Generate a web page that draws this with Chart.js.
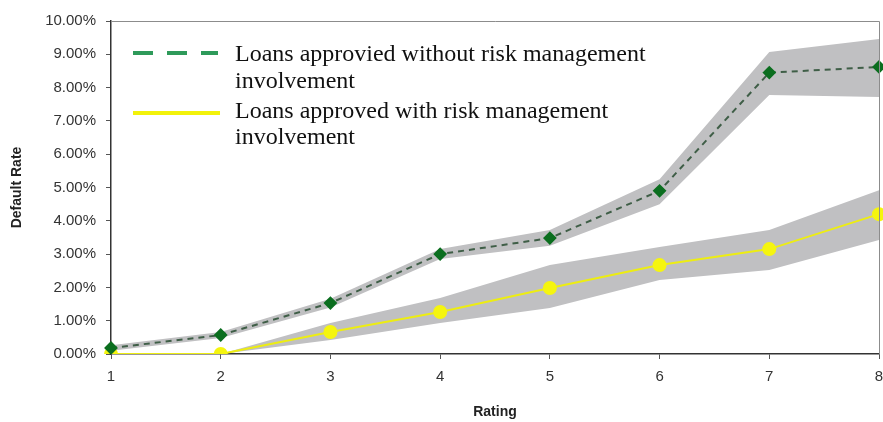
<!DOCTYPE html>
<html>
<head>
<meta charset="utf-8">
<script src="https://cdn.jsdelivr.net/npm/chart.js@4"></script>
<style>
  html, body { margin: 0; padding: 0; background: #fff; }
  #wrap { width: 883px; height: 422px; position: relative; }
</style>
</head>
<body>
<div id="wrap"><canvas id="myChart" width="883" height="422"></canvas></div>
<script>
// ratings on the x axis
const ratings = ['1', '2', '3', '4', '5', '6', '7', '8'];

// default rate in percent
const withoutRisk = [0.18, 0.57, 1.53, 3.0, 3.48, 4.9, 8.45, 8.62];
const withoutRiskHigh = [0.26, 0.66, 1.66, 3.15, 3.72, 5.25, 9.07, 9.46];
const withoutRiskLow = [0.1, 0.48, 1.4, 2.85, 3.25, 4.5, 7.78, 7.72];

const withRisk = [0.0, 0.0, 0.66, 1.26, 1.98, 2.67, 3.15, 4.2];
const withRiskHigh = [0.0, 0.0, 0.93, 1.68, 2.67, 3.21, 3.72, 4.92];
const withRiskLow = [0.0, 0.0, 0.42, 0.93, 1.38, 2.22, 2.52, 3.42];

const legendLabels = [
    ['Loans approvied without risk management', 'involvement'],
    ['Loans approved with risk management', 'involvement']
];

const bandColor = 'rgb(192, 192, 194)';
const tickFont = { family: 'Liberation Sans, Arial, sans-serif', size: 15 };
const titleFont = { family: 'Liberation Sans, Arial, sans-serif', size: 14, weight: 'bold' };

// legend drawn on the canvas, with the wrapped labels of the original
const legendBox = {
    id: 'legendBox',
    afterDraw(chart) {
        const c = chart.ctx;
        const area = chart.chartArea;
        c.save();
        // top and right frame lines
        c.strokeStyle = '#8c8c8c';
        c.lineWidth = 1;
        c.beginPath();
        c.moveTo(area.left, area.top + 0.5);
        c.lineTo(area.right + 0.5, area.top + 0.5);
        c.lineTo(area.right + 0.5, area.bottom);
        c.stroke();

        // legend keys
        c.lineWidth = 4;
        c.strokeStyle = '#2e9a5a';
        c.setLineDash([20, 14]);
        c.beginPath();
        c.moveTo(133, 53);
        c.lineTo(218, 53);
        c.stroke();
        c.setLineDash([]);
        c.strokeStyle = '#f2f20a';
        c.beginPath();
        c.moveTo(133, 113);
        c.lineTo(220, 113);
        c.stroke();

        c.fillStyle = '#111';
        c.font = '24px "Liberation Serif", "DejaVu Serif", serif';
        c.textBaseline = 'alphabetic';
        c.fillText(legendLabels[0][0], 235, 61);
        c.fillText(legendLabels[0][1], 235, 88);
        c.fillText(legendLabels[1][0], 235, 118);
        c.fillText(legendLabels[1][1], 235, 144);
        c.restore();
    }
};

const ctx = document.getElementById('myChart');

new Chart(ctx, {
    type: 'line',
    data: {
        labels: ratings,
        datasets: [
            {
                data: withoutRisk,
                order: 0,
                borderColor: '#3f5e47',
                borderWidth: 2,
                borderDash: [6, 5],
                pointStyle: 'rectRot',
                pointRadius: 5.5,
                pointBackgroundColor: '#0b6e1f',
                pointBorderColor: '#0b6e1f',
                fill: false
            },
            {
                data: withRisk,
                order: 0,
                borderColor: '#eded12',
                borderWidth: 2,
                pointRadius: 6,
                pointBackgroundColor: '#f5f50f',
                pointBorderColor: '#f5f50f',
                fill: false
            },
            {
                data: withoutRiskHigh,
                order: 5,
                borderWidth: 0,
                pointRadius: 0,
                backgroundColor: bandColor,
                fill: false
            },
            {
                data: withoutRiskLow,
                order: 5,
                borderWidth: 0,
                pointRadius: 0,
                backgroundColor: bandColor,
                fill: 2
            },
            {
                data: withRiskHigh,
                order: 5,
                borderWidth: 0,
                pointRadius: 0,
                backgroundColor: bandColor,
                fill: false
            },
            {
                data: withRiskLow,
                order: 5,
                borderWidth: 0,
                pointRadius: 0,
                backgroundColor: bandColor,
                fill: 4
            }
        ]
    },
    options: {
        responsive: false,
        animation: false,
        layout: {
            autoPadding: false,
            padding: { top: 21, right: 4, left: 0, bottom: 0 }
        },
        plugins: {
            legend: { display: false },
            tooltip: { enabled: false }
        },
        scales: {
            x: {
                offset: false,
                afterFit(axis) {
                    axis.height = 68;
                    axis.paddingLeft = 0;
                    axis.paddingRight = 4;
                },
                border: { color: '#333', width: 1.5 },
                grid: { drawOnChartArea: false, tickLength: 5, color: '#555' },
                ticks: {
                    color: '#333',
                    padding: 9,
                    font: tickFont
                },
                title: {
                    display: true,
                    text: 'Rating',
                    color: '#222',
                    padding: { top: 0, bottom: 1 },
                    font: titleFont
                }
            },
            y: {
                min: 0,
                max: 10,
                afterFit(axis) { axis.width = 111; },
                border: { color: '#333', width: 1.5 },
                grid: { drawOnChartArea: false, tickLength: 5, color: '#555' },
                ticks: {
                    stepSize: 1,
                    color: '#333',
                    padding: 10,
                    font: tickFont,
                    callback: function (value) {
                        return value.toFixed(2) + '%';
                    }
                },
                title: {
                    display: true,
                    text: 'Default Rate',
                    color: '#222',
                    padding: { top: 9, bottom: 0 },
                    font: titleFont
                }
            }
        }
    },
    plugins: [legendBox]
});
</script>
</body>
</html>
